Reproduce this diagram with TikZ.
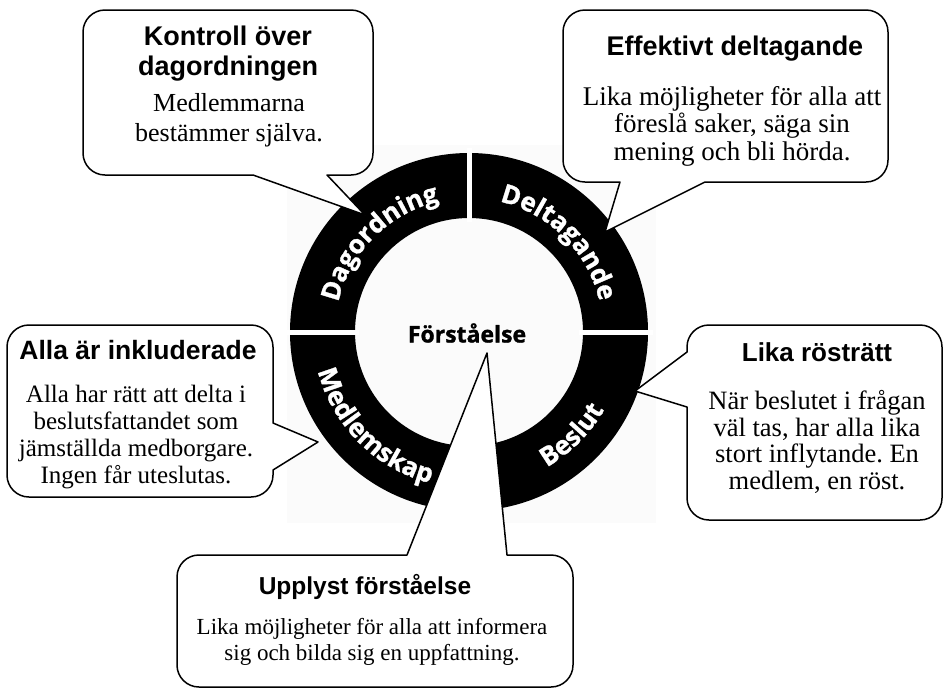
\documentclass[tikz,border=0pt]{standalone}
\usepackage{fontspec}
\setmainfont{Liberation Serif}
\newfontfamily\hdfont{Liberation Sans}
\newfontfamily\ringfont{Open Sans}[BoldFeatures={FakeBold=1.2}]
\usetikzlibrary{decorations.text}
\newcommand\ringtxt{\ringfont\bfseries\fontsize{26}{26}\selectfont\color{white}}
\frenchspacing
\tikzset{
  bubble/.style={draw=black, fill=white, line width=1.5pt, line join=round},
  ttl/.style={font=\hdfont\bfseries, align=center, inner sep=0pt},
  bdy/.style={align=center, inner sep=0pt},
  gapline/.style={draw=white, line width=5pt},
  ringlabel/.style={decorate, decoration={text along path, text align=center, text format delimiters={|}{|}}}
}
\begin{document}
\begin{tikzpicture}[x=1pt,y=-1pt]
\useasboundingbox (0,0) rectangle (944,689);
\fill[white] (0,0) rectangle (944,689);
% faint background of the ring graphic
\fill[black!1.5] (287,145) rectangle (656,523);
\coordinate (c) at (469,332);
% ring
\fill[black, even odd rule] (c) circle[radius=179] (c) circle[radius=114];
\foreach \a in {0,90,180,270}
  \draw[gapline] (c) ++(\a:110) -- ++(\a:74);
% ring labels
\path[ringlabel, decoration={text={|\ringtxt|Dagordning}}]
  (c) ++(180:134) arc[start angle=180, end angle=270, radius=134];
\path[ringlabel, decoration={text={|\ringtxt|Deltagande}}]
  (c) ++(270:134) arc[start angle=270, end angle=360, radius=134];
\path[ringlabel, decoration={text={|\ringtxt|Medlemskap}}]
  (c) ++(180:156) arc[start angle=180, end angle=90, radius=156];
\path[ringlabel, decoration={text={|\ringtxt|Beslut}}]
  (c) ++(90:156) arc[start angle=90, end angle=0, radius=156];
\node[font=\ringfont\bfseries\fontsize{23}{23}\selectfont, inner sep=0pt] (center) at (467,333) {Förståelse};

% bubble 1: Kontroll over dagordningen
\draw[bubble] (105,10) -- (351,10) arc[start angle=270,end angle=360,radius=22]
  -- (373,153) arc[start angle=0,end angle=90,radius=22]
  -- (327,175) -- (365,215) -- (253,175)
  -- (105,175) arc[start angle=90,end angle=180,radius=22]
  -- (83,32) arc[start angle=180,end angle=270,radius=22] -- cycle;
\node[ttl, font=\hdfont\bfseries\fontsize{27}{30}\selectfont] (t1) at (228,54) {Kontroll över\\dagordningen};
\node[bdy, font=\fontsize{26}{30}\selectfont] (b1) at (229,120) {Medlemmarna\\bestämmer själva.};

% bubble 2: Effektivt deltagande
\draw[bubble] (585,10) -- (866,10) arc[start angle=270,end angle=360,radius=22]
  -- (888,160) arc[start angle=0,end angle=90,radius=22]
  -- (705,182) -- (605,232) -- (620,182)
  -- (585,182) arc[start angle=90,end angle=180,radius=22]
  -- (563,32) arc[start angle=180,end angle=270,radius=22] -- cycle;
\node[ttl, font=\hdfont\bfseries\fontsize{27}{30}\selectfont] (t2) at (735,49) {Effektivt deltagande};
\node[bdy, font=\fontsize{27}{27.5}\selectfont] (b2) at (732,126) {Lika möjligheter för alla att\\föreslå saker, säga sin\\mening och bli hörda.};

% bubble 3: Alla ar inkluderade
\draw[bubble] (29,325) -- (251,325) arc[start angle=270,end angle=360,radius=22]
  -- (273,423) -- (318,442) -- (273,470)
  -- (273,475) arc[start angle=0,end angle=90,radius=22]
  -- (29,497) arc[start angle=90,end angle=180,radius=22]
  -- (7,347) arc[start angle=180,end angle=270,radius=22] -- cycle;
\node[ttl, font=\hdfont\bfseries\fontsize{26.5}{30}\selectfont] (t3) at (138,350) {Alla är inkluderade};
\node[bdy, font=\fontsize{25}{26.7}\selectfont] (b3) at (136,437) {Alla har rätt att delta i\\beslutsfattandet som\\jämställda medborgare.\\Ingen får uteslutas.};

% bubble 4: Lika rostratt
\draw[bubble] (709,325) -- (920,325) arc[start angle=270,end angle=360,radius=22]
  -- (942,498) arc[start angle=0,end angle=90,radius=22]
  -- (709,520) arc[start angle=90,end angle=180,radius=22]
  -- (687,407) -- (635,391) -- (687,352)
  -- (687,347) arc[start angle=180,end angle=270,radius=22] -- cycle;
\node[ttl, font=\hdfont\bfseries\fontsize{26}{30}\selectfont] (t4) at (817,352) {Lika rösträtt};
\node[bdy, font=\fontsize{26.5}{26.7}\selectfont] (b4) at (817,442) {När beslutet i frågan\\väl tas, har alla lika\\stort inflytande. En\\medlem, en röst.};

% bubble 5: Upplyst forstaelse
\draw[bubble] (199,555) -- (407,555) -- (487,353) -- (507,555)
  -- (551,555) arc[start angle=270,end angle=360,radius=22]
  -- (573,665) arc[start angle=0,end angle=90,radius=22]
  -- (199,687) arc[start angle=90,end angle=180,radius=22]
  -- (177,577) arc[start angle=180,end angle=270,radius=22] -- cycle;
\node[ttl, font=\hdfont\bfseries\fontsize{24.5}{30}\selectfont] (t5) at (365,587) {Upplyst förståelse};
\node[bdy, font=\fontsize{23}{26}\selectfont] (b5) at (372,642) {Lika möjligheter för alla att informera\\sig och bilda sig en uppfattning.};
\end{tikzpicture}
\end{document}
